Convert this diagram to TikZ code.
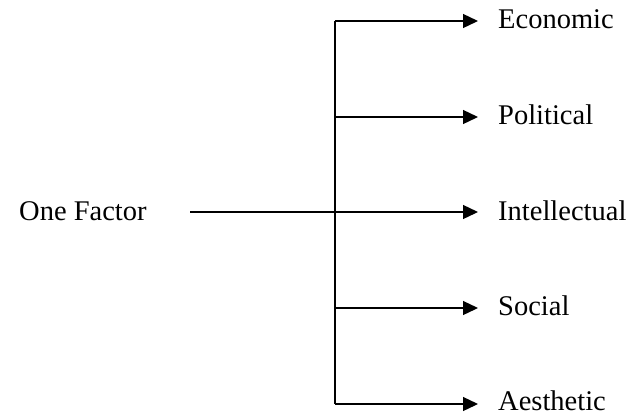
\documentclass[tikz,border=0pt]{standalone}
\usepackage{fontspec}
\setmainfont{Liberation Serif}
\usetikzlibrary{arrows.meta}
\begin{document}
\begin{tikzpicture}[x=1pt,y=-1pt,
  lbl/.style={anchor=west,inner sep=0pt,font=\fontsize{28.5}{34}\selectfont},
  branch/.style={line width=1.3pt,-{Triangle[length=15pt,width=14pt]}},
  trunk/.style={line width=1.5pt}]
\useasboundingbox (0,0) rectangle (634,416);
\node[lbl] (one) at (19,211) {One Factor};
\coordinate (s) at (190,212);
\coordinate (j) at (335,212);
\coordinate (top) at (335,21);
\coordinate (bot) at (335,404);
\node[lbl] (eco) at (498,19) {Economic};
\node[lbl] (pol) at (498,115) {Political};
\node[lbl] (int) at (498,211) {Intellectual};
\node[lbl] (soc) at (498,306) {Social};
\node[lbl] (aes) at (498,401) {Aesthetic};
\draw[line width=2.2pt] (s) -- (j);
\draw[trunk] (top) -- (bot);
\draw[branch] (top) -- ([xshift=-20pt,yshift=-2pt]eco.west);
\draw[branch] (335,117) -- ([xshift=-20pt,yshift=-2pt]pol.west);
\draw[branch] (j) -- ([xshift=-20pt,yshift=-1pt]int.west);
\draw[branch] (335,308) -- ([xshift=-20pt,yshift=-2pt]soc.west);
\draw[branch] (bot) -- ([xshift=-20pt,yshift=-3pt]aes.west);
\end{tikzpicture}
\end{document}
